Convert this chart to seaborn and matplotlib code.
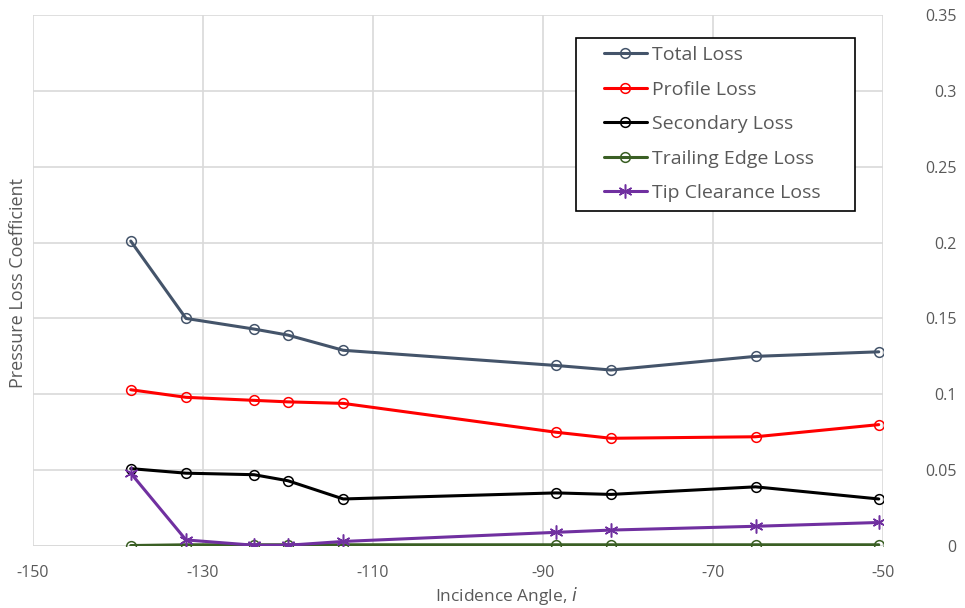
import matplotlib
matplotlib.use("Agg")
import matplotlib.pyplot as plt
import seaborn as sns
import pandas as pd
from matplotlib.patches import Rectangle
from matplotlib.ticker import FuncFormatter

# Incidence angles (deg)
incidence = [-138.5, -132, -124, -120, -113.5, -88.5, -82, -65, -50.5]

total_loss = [0.201, 0.150, 0.143, 0.139, 0.129, 0.119, 0.116, 0.125, 0.128]
profile_loss = [0.103, 0.098, 0.096, 0.095, 0.094, 0.075, 0.071, 0.072, 0.080]
secondary_loss = [0.051, 0.048, 0.047, 0.043, 0.031, 0.035, 0.034, 0.039, 0.031]
trailing_edge_loss = [0.0003, 0.0008, 0.0008, 0.0008, 0.0008, 0.0008, 0.0008, 0.0008, 0.0008]
tip_clearance_loss = [0.048, 0.004, 0.0005, 0.0005, 0.003, 0.009, 0.0105, 0.013, 0.0155]

series_names = ["Total Loss", "Profile Loss", "Secondary Loss",
                "Trailing Edge Loss", "Tip Clearance Loss"]
series_values = [total_loss, profile_loss, secondary_loss,
                 trailing_edge_loss, tip_clearance_loss]
colors = ["#44546A", "#FF0000", "#000000", "#3A5F24", "#7030A0"]
markers = ["o", "o", "o", "o", (6, 2, 0)]

x_ticks = [-150, -130, -110, -90, -70, -50]
y_ticks = [0, 0.05, 0.1, 0.15, 0.2, 0.25, 0.3, 0.35]

frames = []
for name, vals in zip(series_names, series_values):
    frames.append(pd.DataFrame({"Incidence": incidence, "Loss": vals, "Series": name}))
df = pd.concat(frames, ignore_index=True)

sns.set_style("white")
plt.rcParams["font.family"] = ["Open Sans", "DejaVu Sans"]
plt.rcParams["axes.unicode_minus"] = False
text_color = "#595959"

W, H = 965, 608
fig = plt.figure(figsize=(W / 100, H / 100), dpi=100)
ax = fig.add_axes([33 / W, 62 / H, 850 / W, 531 / H])

for name, col, mk in zip(series_names, colors, markers):
    sub = df[df["Series"] == name]
    sns.lineplot(data=sub, x="Incidence", y="Loss", ax=ax, color=col,
                 linewidth=2.2, marker=mk, markersize=7 if mk == "o" else 10,
                 markerfacecolor="none", markeredgecolor=col, markeredgewidth=1.1,
                 label=name, zorder=3)

ax.set_xlim(-150, -50)
ax.set_ylim(0, 0.35)
ax.set_xticks(x_ticks)
ax.set_yticks(y_ticks)
ax.yaxis.tick_right()
ax.xaxis.set_major_formatter(FuncFormatter(lambda v, p: f"{v:g}"))
ax.yaxis.set_major_formatter(FuncFormatter(lambda v, p: f"{v:g}"))
ax.grid(True, color="#D9D9D9", linewidth=1.2)
for s in ax.spines.values():
    s.set_visible(False)
ax.axhline(0, color="#D9D9D9", linewidth=1.2, zorder=1)
ax.tick_params(axis="both", length=0, labelsize=11.5, labelcolor=text_color)
ax.tick_params(axis="y", pad=53)
ax.tick_params(axis="x", pad=14)
for lbl in ax.get_yticklabels():
    lbl.set_horizontalalignment("right")

ax.set_xlabel("")
ax.set_ylabel("")
fig.text(18 / W, (H - 283) / H, "Pressure Loss Coefficient", rotation=90,
         ha="center", va="center", fontsize=13, color=text_color)
fig.text(506 / W, 12 / H, "Incidence Angle, $\\it{i}$", ha="center",
         va="center", fontsize=12.5, color=text_color)

# legend box with its own frame
ax.add_patch(Rectangle((576 / W, (H - 211) / H), 279 / W, 173 / H,
                       transform=fig.transFigure, fill=True, facecolor="white",
                       edgecolor="black", linewidth=1.2, zorder=4, clip_on=False))
leg = ax.legend(loc="upper left", bbox_to_anchor=(604 / W, (H - 46) / H),
                bbox_transform=fig.transFigure,
                frameon=False, fontsize=14,
                handlelength=2.2, handletextpad=0.25, labelspacing=0.85,
                borderpad=0, borderaxespad=0)
leg.set_zorder(5)
for t in leg.get_texts():
    t.set_color(text_color)

fig.savefig("out.png", dpi=100)
